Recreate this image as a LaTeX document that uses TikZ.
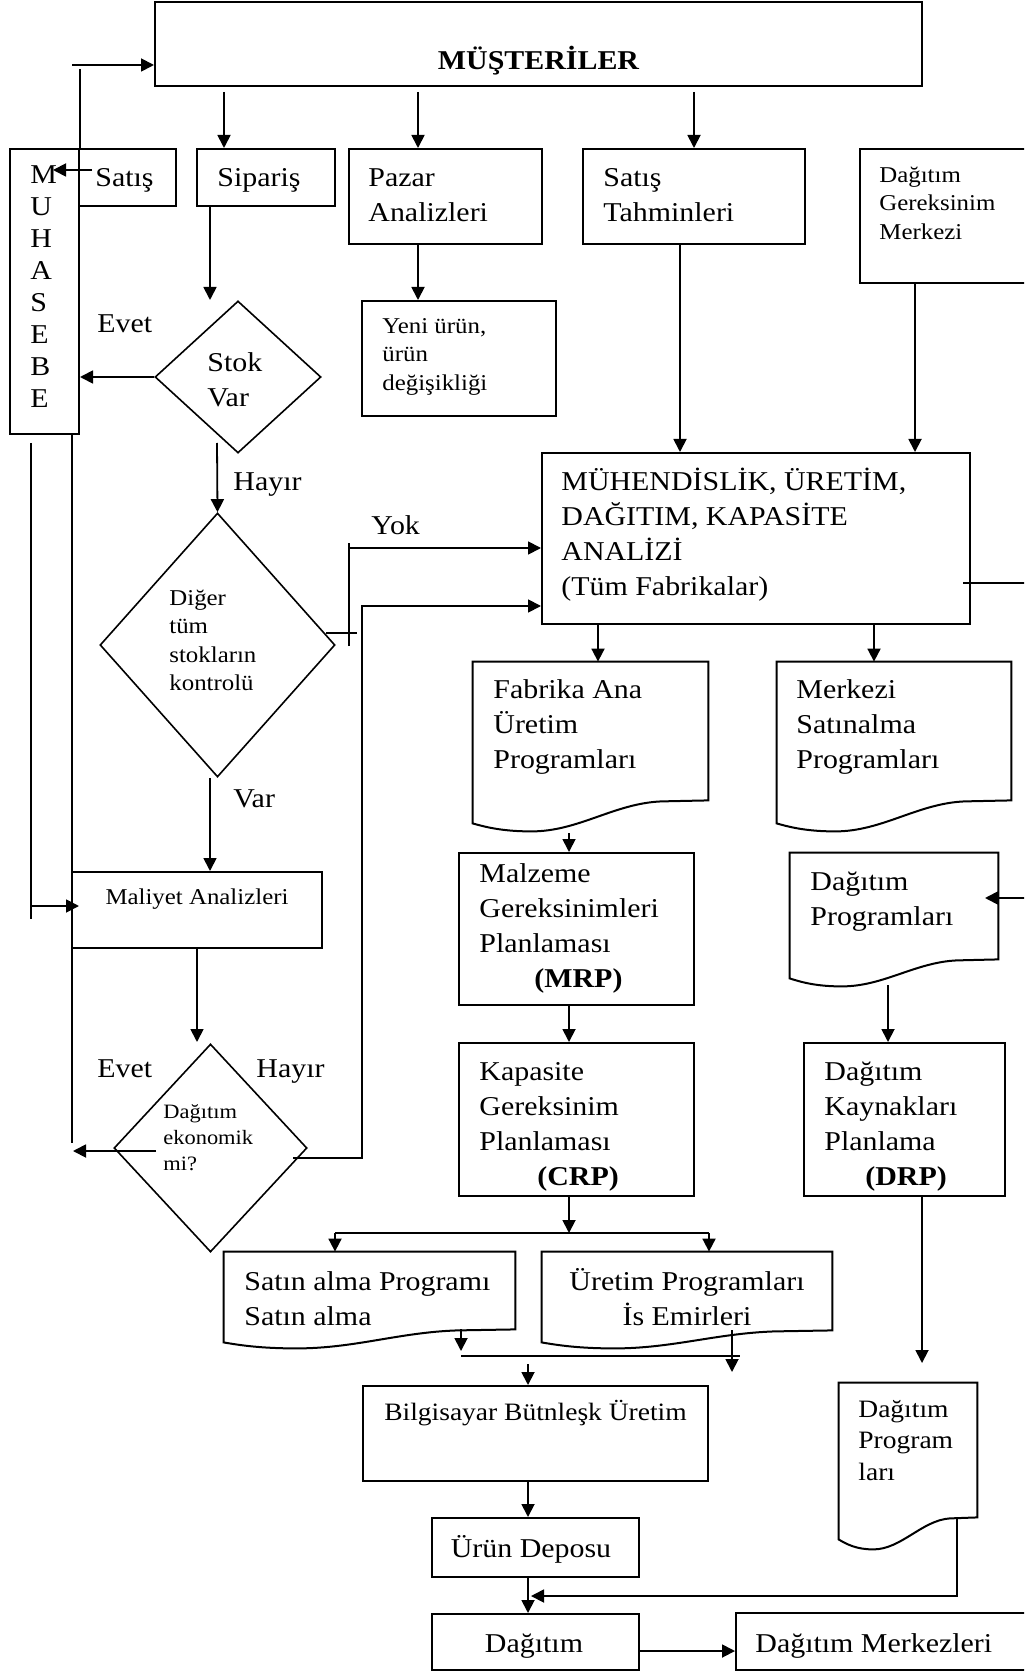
\documentclass[tikz,border=0pt]{standalone}
\usepackage{fontspec}
\setmainfont{Liberation Serif}[FakeStretch=1.1]
\usetikzlibrary{arrows.meta,shapes.geometric,calc}

\newcommand\fbig{\fontsize{13.6}{17.5}\selectfont}
\newcommand\fmid{\fontsize{12.5}{15.75}\selectfont}
\newcommand\fsmall{\fontsize{11.3}{14.25}\selectfont}
\newcommand\ftiny{\fontsize{10.2}{13}\selectfont}

\tikzset{
  box/.style={draw, rectangle, line width=1pt, inner sep=0pt},
  ghost/.style={rectangle, inner sep=0pt},
  decision/.style={draw, diamond, line width=0.8pt, inner sep=0pt},
  txt/.style={anchor=north west, inner sep=0pt, align=left, font=\fbig},
  ctxt/.style={anchor=base, inner sep=0pt, font=\fbig},
  lbl/.style={anchor=base west, inner sep=0pt, font=\fbig},
  link/.style={line width=0.9pt},
  arr/.style={link, -{Triangle[length=6.5pt,width=6.5pt]}},
  docline/.style={line width=1pt, line join=miter},
}

% document symbol: outline of a rectangle node with a wavy lower edge
% #1 node, #2 drop of the lower left corner, #3 depth of the wave
\newcommand\docwave[3]{%
  \draw[docline] ($(#1.south west)+(0,#2)$) -- (#1.north west) -- (#1.north east) -- (#1.south east)
    -- ($(#1.south west)!0.8!(#1.south east)+(0,1)$)
    .. controls ($(#1.south west)!0.6!(#1.south east)+(0,3)$)
            and ($(#1.south west)!0.45!(#1.south east)+(0,#2+#3)$)
    .. ($(#1.south west)!0.25!(#1.south east)+(0,#2+#3)$)
    .. controls ($(#1.south west)!0.13!(#1.south east)+(0,#2+#3)$)
            and ($(#1.south west)!0.06!(#1.south east)+(0,#2+#3*0.5)$)
    .. cycle;}

\begin{document}
\begin{tikzpicture}[x=0.5pt, y=-0.5pt]
\useasboundingbox (0,0) rectangle (1024,1673);
\clip (0,0) rectangle (1024,1673);
\fill[white] (0,0) rectangle (1024,1673);

% ---------- plain boxes ----------
\node[box, minimum width=383.5pt, minimum height=42pt] (mus) at (538.5,44) {};
\node[box, minimum width=34.5pt, minimum height=142.5pt] (muh) at (44.5,291.5) {};
\node[box, minimum width=48.5pt, minimum height=28.5pt] (sat) at (127.5,177.5) {};
\node[box, minimum width=69pt, minimum height=28.5pt] (sip) at (266,177.5) {};
\node[box, minimum width=96.5pt, minimum height=47.5pt] (paz) at (445.5,196.5) {};
\node[box, minimum width=111pt, minimum height=47.5pt] (tah) at (694,196.5) {};
\node[box, minimum width=92pt, minimum height=67pt] (dgm) at (952,216) {};
\node[box, minimum width=97pt, minimum height=57.5pt] (yeni) at (459,358.5) {};
\node[box, minimum width=214pt, minimum height=85.5pt] (muhe) at (756,538.5) {};
\node[box, minimum width=125pt, minimum height=38pt] (maly) at (197,910) {};
\node[box, minimum width=117.5pt, minimum height=76pt] (mal) at (576.5,929) {};
\node[box, minimum width=117.5pt, minimum height=76.5pt] (kap) at (576.5,1119.5) {};
\node[box, minimum width=100.5pt, minimum height=76.5pt] (dkp) at (904.5,1119.5) {};
\node[box, minimum width=172.5pt, minimum height=47.5pt] (bil) at (535.5,1433.5) {};
\node[box, minimum width=103.5pt, minimum height=29.5pt] (urun) at (535.5,1547.5) {};
\node[box, minimum width=103.5pt, minimum height=28pt] (dag) at (535.5,1642) {};
\node[box, minimum width=154pt, minimum height=28.5pt] (dmk) at (890,1641.5) {};

% ---------- decisions ----------
\node[decision, minimum width=83pt, minimum height=76pt] (stok) at (238,377) {};
\node[decision, minimum width=117.5pt, minimum height=132pt] (diger) at (217.5,645) {};
\node[decision, minimum width=96.5pt, minimum height=104pt] (eko) at (210.5,1148) {};

% ---------- documents ----------
\node[ghost, minimum width=117.5pt, minimum height=69pt] (fab) at (590.5,731) {};
\node[ghost, minimum width=117pt, minimum height=69pt] (mer) at (894,731) {};
\node[ghost, minimum width=104pt, minimum height=53pt] (dp) at (894,906) {};
\node[ghost, minimum width=145.5pt, minimum height=38.5pt] (sal) at (369.5,1290.5) {};
\node[ghost, minimum width=145pt, minimum height=39pt] (ure) at (687,1291) {};
\node[ghost, minimum width=69pt, minimum height=67pt] (dpl) at (908,1450) {};
\docwave{fab}{23}{8}
\docwave{mer}{23}{8}
\docwave{dp}{19}{8}
\docwave{sal}{13}{6}
\docwave{ure}{12}{6}
\docwave{dpl}{22}{10}

% ---------- texts ----------
\node[ctxt, font=\fbig\bfseries] (t-mus) at (538.5,70) {MÜŞTERİLER};
\node[txt, font=\fontsize{13.6}{16}\selectfont] (t-muh) at (30,160.6) {\strut M\\U\\H\\A\\S\\E\\B\\E};
\node[lbl] (t-sat) at (95,187) {Satış};
\node[lbl] (t-sip) at (217,187) {Sipariş};
\node[txt] (t-paz) at (368,161.5) {\strut Pazar\\Analizleri};
\node[txt] (t-tah) at (603,161.5) {\strut Satış\\Tahminleri};
\node[txt, font=\fsmall] (t-dgm) at (879,162) {\strut Dağıtım\\Gereksinim\\Merkezi};
\node[txt, font=\fsmall] (t-yeni) at (382,313) {\strut Yeni ürün,\\ürün\\değişikliği};
\node[txt] (t-stok) at (207,346.5) {\strut Stok\\Var};
\node[txt, font=\fsmall] (t-diger) at (169,585) {\strut Diğer\\tüm\\stokların\\kontrolü};
\node[txt, font=\ftiny] (t-eko) at (163,1099.8) {\strut Dağıtım\\ekonomik\\mi?};
\node[ctxt, font=\fsmall] (t-maly) at (197,904) {Maliyet Analizleri};
\node[txt] (t-muhe) at (561,465.5) {\strut MÜHENDİSLİK, ÜRETİM,\\DAĞITIM, KAPASİTE\\ANALİZİ\\(Tüm Fabrikalar)};
\node[txt] (t-fab) at (493,673.5) {\strut Fabrika Ana\\Üretim\\Programları};
\node[txt] (t-mer) at (796,673.5) {\strut Merkezi\\Satınalma\\Programları};
\node[txt] (t-mal) at (479,857.5) {\strut Malzeme\\Gereksinimleri\\Planlaması\\\hspace*{27.5pt}\textbf{(MRP)}};
\node[txt] (t-dp) at (810,865.5) {\strut Dağıtım\\Programları};
\node[txt] (t-kap) at (479,1055.5) {\strut Kapasite\\Gereksinim\\Planlaması\\\hspace*{29pt}\textbf{(CRP)}};
\node[txt] (t-dkp) at (824,1055.5) {\strut Dağıtım\\Kaynakları\\Planlama\\\hspace*{20.5pt}\textbf{(DRP)}};
\node[txt] (t-sal) at (244,1265.5) {\strut Satın alma Programı\\Satın alma};
\node[txt, anchor=north, align=center] (t-ure) at (687,1265.5) {\strut Üretim Programları\\İs Emirleri};
\node[ctxt, font=\fmid] (t-bil) at (535.5,1420) {Bilgisayar Bütnleşk Üretim};
\node[txt, font=\fmid] (t-dpl) at (858,1395) {\strut Dağıtım\\Program\\ları};
\node[ctxt] (t-urun) at (531,1557) {Ürün Deposu};
\node[ctxt] (t-dag) at (534,1652) {Dağıtım};
\node[lbl] (t-dmk) at (755,1652) {Dağıtım Merkezleri};

% ---------- branch labels ----------
\node[lbl] (l-evet1) at (97,333) {Evet};
\node[lbl] (l-hayir1) at (233,491) {Hayır};
\node[lbl] (l-yok) at (371,535) {Yok};
\node[lbl] (l-var) at (233,807) {Var};
\node[lbl] (l-evet2) at (97,1077) {Evet};
\node[lbl] (l-hayir2) at (256,1077) {Hayır};

% ---------- free ends of connectors ----------
\coordinate (fbtop) at (78,69);
\coordinate (fbstart) at (72,65);
\coordinate (satfrom) at (92,170);
\coordinate (mletter) at (53,170);
\coordinate (stokin) at (210,300);
\coordinate (stokout) at (217,443);
\coordinate (stubA) at (326,633);
\coordinate (stubB) at (357,633);
\coordinate (yokbot) at (349,646);
\coordinate (yoktop) at (349,543);
\coordinate (yokturn) at (349,548);
\coordinate (hayfrom) at (293,1158);
\coordinate (haycorner) at (362,1158);
\coordinate (hayturn) at (362,606);
\coordinate (acctop) at (31,443);
\coordinate (accbot) at (31,919);
\coordinate (accarrow) at (31,906);
\coordinate (acctip) at (79,906);
\coordinate (accend) at (72,1143);
\coordinate (ekoin) at (197,1042);
\coordinate (evetfrom) at (156,1151);
\coordinate (evettip) at (73,1151);
\coordinate (rstub) at (963,583);
\coordinate (rout) at (1036,583);
\coordinate (rback) at (1036,898);
\coordinate (rtip) at (985,898);
\coordinate (fabout) at (569,833);
\coordinate (dpout) at (888,985);
\coordinate (split) at (569,1233);
\coordinate (splitL) at (335,1233);
\coordinate (splitR) at (709,1233);
\coordinate (salin) at (461,1351);
\coordinate (mergeL) at (461,1356);
\coordinate (mergeR) at (740,1356);
\coordinate (urein) at (732,1372);
\coordinate (bilfrom) at (528,1364);
\coordinate (dplin) at (922,1363);
\coordinate (dplcorner) at (957,1596);
\coordinate (dagjoin) at (531,1596);

% ---------- connectors ----------
\draw[link] (muh.north east) -- (muh.north east |- fbtop);
\draw[arr] (fbstart) -- (mus.west |- fbstart);
\draw[arr] (satfrom) -- (mletter);

\draw[arr, shorten <=2.5pt] (mus.south -| 224,0) -- (sip.north -| 224,0);
\draw[arr, shorten <=2.5pt] (mus.south -| 418,0) -- (paz.north -| 418,0);
\draw[arr, shorten <=2.5pt] (mus.south -| 694,0) -- (tah.north);
\draw[arr] (paz.south -| 418,0) -- (yeni.north -| 418,0);
\draw[arr] (tah.south -| 680,0) -- (muhe.north -| 680,0);
\draw[arr] (dgm.south -| 915,0) -- (muhe.north -| 915,0);

\draw[arr] (sip.south -| stokin) -- (stokin);
\draw[arr] (stok.west) -- (stok.west -| muh.east);
\draw[arr] (stokout) -- (diger.north);
\draw[link] (stubA) -- (stubB);
\draw[link] (yokbot) -- (yoktop);
\draw[arr] (yokturn) -- (muhe.west |- yokturn);
\draw[arr] (diger.south -| 210,0) -- (maly.north -| 210,0);
\draw[arr] (hayfrom) -- (haycorner) -- (hayturn) -- (muhe.west |- hayturn);

\draw[link] (acctop) -- (accbot);
\draw[arr] (accarrow) -- (acctip);
\draw[link] (muh.south -| accend) -- (accend);
\draw[arr] (maly.south) -- (ekoin);
\draw[arr] (evetfrom) -- (evettip);

\draw[arr] (muhe.south -| 598,0) -- (fab.north -| 598,0);
\draw[arr] (muhe.south -| 874,0) -- (mer.north -| 874,0);
\draw[arr] (rstub) -- (rout) -- (rback) -- (rtip);

\draw[arr] (fabout) -- (mal.north -| fabout);
\draw[arr] (mal.south -| 569,0) -- (kap.north -| 569,0);
\draw[arr] (dpout) -- (dkp.north -| dpout);

\draw[arr] (kap.south -| split) -- (split);
\draw[link] (splitL) -- (splitR);
\draw[arr] (splitL) -- (sal.north -| splitL);
\draw[arr] (splitR) -- (ure.north -| splitR);

\draw[arr] (sal.south -| salin) -- (salin);
\draw[link] (mergeL) -- (mergeR);
\draw[arr] (ure.south -| urein) -- (urein);
\draw[arr] (bilfrom) -- (bil.north -| bilfrom);
\draw[arr] (bil.south -| 528,0) -- (urun.north -| 528,0);
\draw[arr] (urun.south -| 528,0) -- (dag.north -| 528,0);

\draw[arr] (dkp.south -| dplin) -- (dplin);
\draw[arr] (dpl.south -| dplcorner) -- (dplcorner) -- (dagjoin);
\draw[arr] (dag.east |- 0,1651) -- (dmk.west |- 0,1651);
\end{tikzpicture}
\end{document}
